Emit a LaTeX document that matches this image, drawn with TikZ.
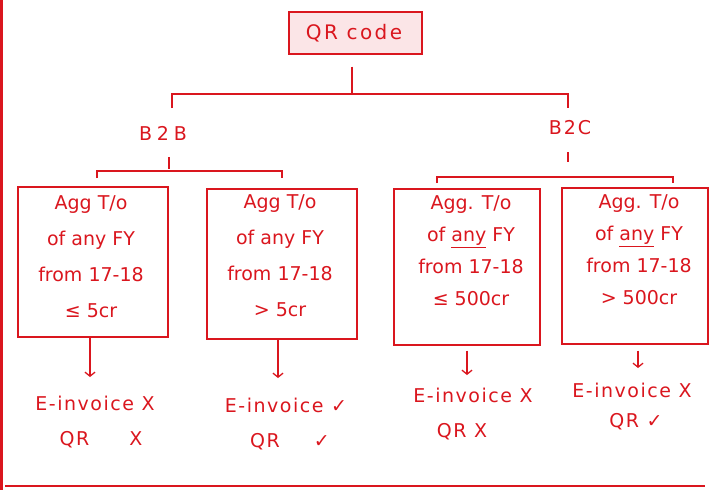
\documentclass[tikz,border=0pt]{standalone}
\usepackage{fontspec}
\setmainfont{DejaVu Sans}
\usetikzlibrary{arrows.meta}
\definecolor{hred}{RGB}{218,22,30}
\definecolor{hpink}{RGB}{251,229,231}
\begin{document}
\begin{tikzpicture}[x=1pt,y=-1pt,
  line/.style={draw=hred,line width=1.3pt},
  boxnode/.style={draw=hred,line width=1.3pt,inner sep=0pt},
  txt/.style={text=hred,font=\fontsize{19}{22}\selectfont\addfontfeature{LetterSpace=8},inner sep=0pt},
  boxtxt/.style={text=hred,align=center,inner sep=0pt},
  arr/.style={draw=hred,line width=1.3pt,-{Straight Barb[length=4pt,width=10pt]}}]
\useasboundingbox (0,0) rectangle (719,490);
% frame lines
\draw[hred,line width=3pt] (1.5,0) -- (1.5,490);
\draw[line] (5,486) -- (705,486);
% root
\node[boxnode,fill=hpink,minimum width=133pt,minimum height=42pt] (qr) at (355.5,33) {};
\node[txt,font=\fontsize{20}{22}\selectfont\addfontfeature{LetterSpace=12}] (qrt) at (354,33) {QR code};
\coordinate (j) at (352,94);
\coordinate (jl) at (172,108);
\coordinate (jr) at (568,108);
\draw[line] ([yshift=-12pt]qr.south -| j) -- (j);
\draw[line] (jl) -- (jl |- j) -- (jr |- j) -- (jr);
% level 1
\node[txt,font=\fontsize{19}{22}\selectfont\addfontfeature{LetterSpace=25}] (b2b) at (163,133) {B2B};
\node[txt,font=\fontsize{19}{22}\selectfont\addfontfeature{LetterSpace=10}] (b2c) at (570,128) {B2C};
\coordinate (tl) at (169,169);
\coordinate (tr) at (568,162);
\draw[line] ([yshift=-17pt]b2b.south -| tl) -- (tl);
\draw[line] ([yshift=-17pt]b2c.south -| tr) -- (tr);
% brackets
\coordinate (l1) at (97,178);
\coordinate (l2) at (282,178);
\draw[line] (l1) -- (97,171) -- (282,171) -- (l2);
\coordinate (r1) at (437,183);
\coordinate (r2) at (673,183);
\draw[line] (r1) -- (437,177) -- (673,177) -- (r2);
% boxes
\node[boxnode,minimum width=150pt,minimum height=150pt] (b1) at (93,262) {};
\node[boxnode,minimum width=150pt,minimum height=150pt] (b2) at (282,264) {};
\node[boxnode,minimum width=146pt,minimum height=156pt] (b3) at (467,267) {};
\node[boxnode,minimum width=146pt,minimum height=156pt] (b4) at (635,266) {};
\node[boxtxt,font=\fontsize{19}{36}\selectfont] (t1) at (91,257) {Agg T/o\\of any FY\\from 17-18\\≤ 5cr};
\node[boxtxt,font=\fontsize{19}{36}\selectfont] (t2) at (280,256) {Agg T/o\\of any FY\\from 17-18\\> 5cr};
\node[boxtxt,font=\fontsize{19}{32}\selectfont] (t3) at (471,251) {Agg. T/o\\of \underline{any} FY\\from 17-18\\≤ 500cr};
\node[boxtxt,font=\fontsize{19}{32}\selectfont] (t4) at (639,250) {Agg. T/o\\of \underline{any} FY\\from 17-18\\> 500cr};
% arrows
\coordinate (a1) at (90,377);
\coordinate (a2) at (278,378);
\coordinate (a3) at (467,375);
\coordinate (a4) at (638,368);
\draw[arr] (b1.south -| a1) -- (a1);
\draw[arr] (b2.south -| a2) -- (a2);
\draw[arr] ([yshift=-5pt]b3.south -| a3) -- (a3);
\draw[arr] ([yshift=-6pt]b4.south -| a4) -- (a4);
% outcomes
\node[txt] (e1) at (95,403) {E-invoice X};
\node[txt] (q1) at (101,440) {QR\hspace{40pt}X};
\node[txt] (e2) at (286,405) {E-invoice ✓};
\node[txt] (q2) at (290,442) {QR\hspace{34pt}✓};
\node[txt] (e3) at (473,395) {E-invoice X};
\node[txt] (q3) at (462,432) {QR X};
\node[txt] (e4) at (632,390) {E-invoice X};
\node[txt] (q4) at (636,422) {QR ✓};
\end{tikzpicture}
\end{document}
